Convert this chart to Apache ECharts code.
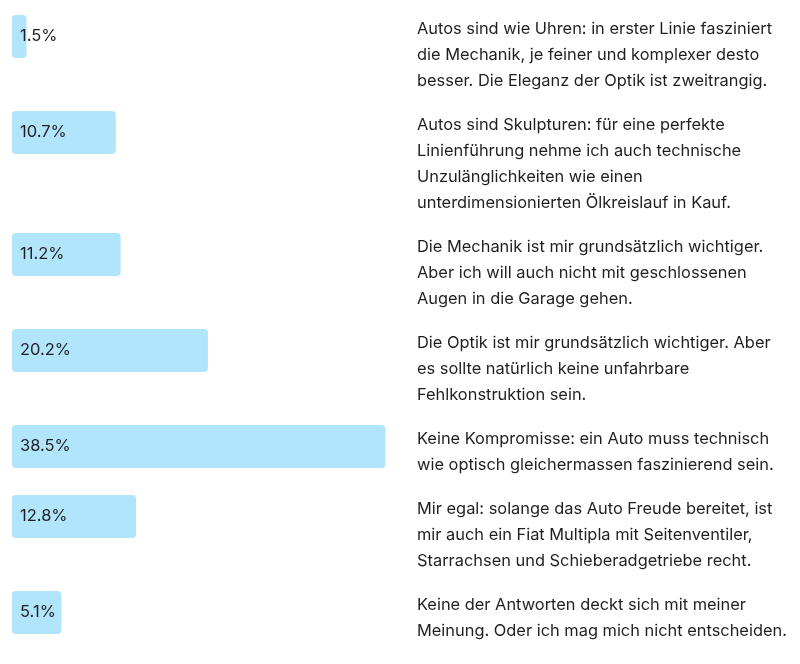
<!DOCTYPE html>
<html>
<head>
<meta charset="utf-8">
<script src="https://cdn.jsdelivr.net/npm/echarts@6/dist/echarts.min.js"></script>
<style>
html,body{margin:0;padding:0;background:#ffffff;}
#chart{width:800px;height:664px;}
</style>
</head>
<body>
<div id="chart"></div>
<script>
// ---- data ----
const answers = [
  'Autos sind wie Uhren: in erster Linie fasziniert\ndie Mechanik, je feiner und komplexer desto\nbesser. Die Eleganz der Optik ist zweitrangig.',
  'Autos sind Skulpturen: für eine perfekte\nLinienführung nehme ich auch technische\nUnzulänglichkeiten wie einen\nunterdimensionierten Ölkreislauf in Kauf.',
  'Die Mechanik ist mir grundsätzlich wichtiger.\nAber ich will auch nicht mit geschlossenen\nAugen in die Garage gehen.',
  'Die Optik ist mir grundsätzlich wichtiger. Aber\nes sollte natürlich keine unfahrbare\nFehlkonstruktion sein.',
  'Keine Kompromisse: ein Auto muss technisch\nwie optisch gleichermassen faszinierend sein.',
  'Mir egal: solange das Auto Freude bereitet, ist\nmir auch ein Fiat Multipla mit Seitenventiler,\nStarrachsen und Schieberadgetriebe recht.',
  'Keine der Antworten deckt sich mit meiner\nMeinung. Oder ich mag mich nicht entscheiden.'
];
const shares = [1.5, 10.7, 11.2, 20.2, 38.5, 12.8, 5.1];

// ---- layout constants ----
const LINE_H = 26;
const ROW_GAP = 18;
const BAR_H = 43;
const FONT = 'Inter, "Noto Sans", sans-serif';
const BAR_COLOR = '#b0e5fb';
const TEXT_COLOR = '#1f1f21';

// row tops derived from the number of text lines of each answer
const rowTops = [];
let acc = 0;
answers.forEach(a => {
  rowTops.push(acc);
  acc += ROW_GAP + LINE_H * a.split('\n').length;
});
const total = acc;

const chart = echarts.init(document.getElementById('chart'), null, {renderer: 'canvas'});
chart.setOption({
  backgroundColor: '#ffffff',
  animation: false,
  grid: {left: 12, top: 15, width: 388, height: total},
  xAxis: {type: 'value', min: 0, max: 40, show: false},
  yAxis: {type: 'value', min: 0, max: total, inverse: true, show: false},
  series: [{
    type: 'custom',
    coordinateSystem: 'cartesian2d',
    encode: {x: 0, y: 1},
    data: shares.map((v, i) => [v, rowTops[i]]),
    renderItem: function (params, api) {
      const i = params.dataIndex;
      const v = api.value(0);
      const top = api.value(1);
      const p0 = api.coord([0, top]);
      const p1 = api.coord([v, top]);
      const h = api.size([0, BAR_H])[1];
      const cs = params.coordSys;
      return {
        type: 'group',
        children: [
          {type: 'rect', shape: {x: p0[0], y: p0[1], width: p1[0] - p0[0], height: h, r: 4},
           style: {fill: BAR_COLOR}},
          {type: 'text', x: p0[0] + 8, y: p0[1] + h / 2,
           style: {text: v.toFixed(1) + '%', fill: TEXT_COLOR, fontSize: 16.5, fontFamily: FONT,
                   align: 'left', verticalAlign: 'middle'}},
          {type: 'text', x: cs.x + cs.width + 17, y: p0[1] + 1,
           style: {text: answers[i], fill: TEXT_COLOR, fontSize: 16.4, fontFamily: FONT,
                   lineHeight: LINE_H, align: 'left', verticalAlign: 'top'}}
        ]
      };
    }
  }]
});
</script>
</body>
</html>
